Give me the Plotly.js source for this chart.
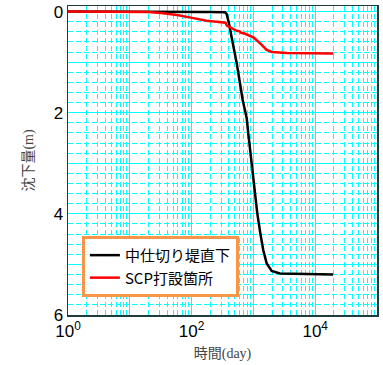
<!DOCTYPE html>
<html>
<head>
<meta charset="utf-8">
<script src="https://cdn.plot.ly/plotly-3.0.1.min.js"></script>
<style>html,body{margin:0;padding:0;background:#fff;}#chart{width:383px;height:365px;}</style>
</head>
<body>
<div id="chart"></div>
<script>
// Series names
const seriesNames = ["中仕切り堤直下", "SCP打設箇所"];

// 中仕切り堤直下 (black): time (day) and settlement (m)
const blackDays = [1, 10, 32, 100, 200, 347, 370, 400, 434, 537, 671, 780, 826, 938, 1062, 1156, 1300, 1445, 1641, 1977, 2692, 5000, 10000, 19500];
const blackSettle = [0, 0, 0, 0.005, 0.01, 0.015, 0.05, 0.22, 0.43, 1.02, 1.75, 2.11, 2.41, 3.0, 3.6, 3.99, 4.4, 4.72, 4.98, 5.13, 5.18, 5.19, 5.2, 5.2];

// SCP打設箇所 (red)
const redDays = [1, 10, 20, 32, 58, 107, 174, 251, 324, 355, 372, 417, 480, 537, 600, 631, 700, 776, 891, 1000, 1288, 1641, 1995, 2399, 3467, 19500];
const redSettle = [0, 0, 0.01, 0.03, 0.07, 0.13, 0.18, 0.2, 0.21, 0.22, 0.28, 0.31, 0.34, 0.38, 0.39, 0.42, 0.43, 0.45, 0.48, 0.51, 0.63, 0.76, 0.8, 0.81, 0.82, 0.83];

// Axis ticks
const xTickVals = [1, 10, 100, 1000, 10000, 100000];
const xTickText = ["10<sup>0</sup>", "", "10<sup>2</sup>", "", "10<sup>4</sup>", ""];
const yTickVals = [0, 1, 2, 3, 4, 5, 6];
const yTickText = ["0", "", "2", "", "4", "", "6"];

const cyan = "#00ffff";
const frame = "#1e3c3c";

const traces = [
  {x: blackDays, y: blackSettle, name: seriesNames[0], mode: "lines",
   line: {color: "#000000", width: 2.5}},
  {x: redDays, y: redSettle, name: seriesNames[1], mode: "lines",
   line: {color: "#ff0000", width: 2.5}}
];

const layout = {
  width: 383, height: 365,
  margin: {l: 68, r: 6, t: 6, b: 50},
  paper_bgcolor: "#ffffff", plot_bgcolor: "#ffffff",
  showlegend: true,
  legend: {
    x: 0.045, y: 0.256, xanchor: "left", yanchor: "top",
    bgcolor: "#ffffff", bordercolor: "#f79646", borderwidth: 3,
    font: {family: "Noto Sans CJK JP, sans-serif", size: 15, color: "#000"}
  },
  xaxis: {
    type: "log", range: [0, 5], autorange: false,
    tickmode: "array", tickvals: xTickVals, ticktext: xTickText,
    ticks: "", showline: true, mirror: true, linecolor: frame, linewidth: 1.5,
    showgrid: true, gridcolor: cyan, gridwidth: 1,
    zeroline: false,
    minor: {dtick: "D1", showgrid: true, gridcolor: cyan, griddash: "5px,3px", gridwidth: 1, ticks: ""},
    tickfont: {family: "Liberation Sans, Arial, sans-serif", size: 17, color: "#000"},
    title: {text: "時間(day)", standoff: 8,
            font: {family: "Liberation Serif, Noto Sans CJK JP, serif", size: 14, color: "#444"}}
  },
  yaxis: {
    range: [6, -0.11], autorange: false,
    tickmode: "array", tickvals: yTickVals, ticktext: yTickText,
    ticks: "", showline: true, mirror: true, linecolor: frame, linewidth: 1.5,
    showgrid: true, gridcolor: cyan, gridwidth: 1,
    zeroline: false,
    minor: {dtick: 0.2, tick0: 0, showgrid: true, gridcolor: cyan, griddash: "5px,3px", gridwidth: 1, ticks: ""},
    tickfont: {family: "Liberation Sans, Arial, sans-serif", size: 17, color: "#000"},
    title: {text: "沈下量(m)", standoff: 16,
            font: {family: "Liberation Serif, Noto Sans CJK JP, serif", size: 14, color: "#444"}}
  }
};

Plotly.newPlot("chart", traces, layout, {staticPlot: true, displayModeBar: false});
</script>
</body>
</html>
